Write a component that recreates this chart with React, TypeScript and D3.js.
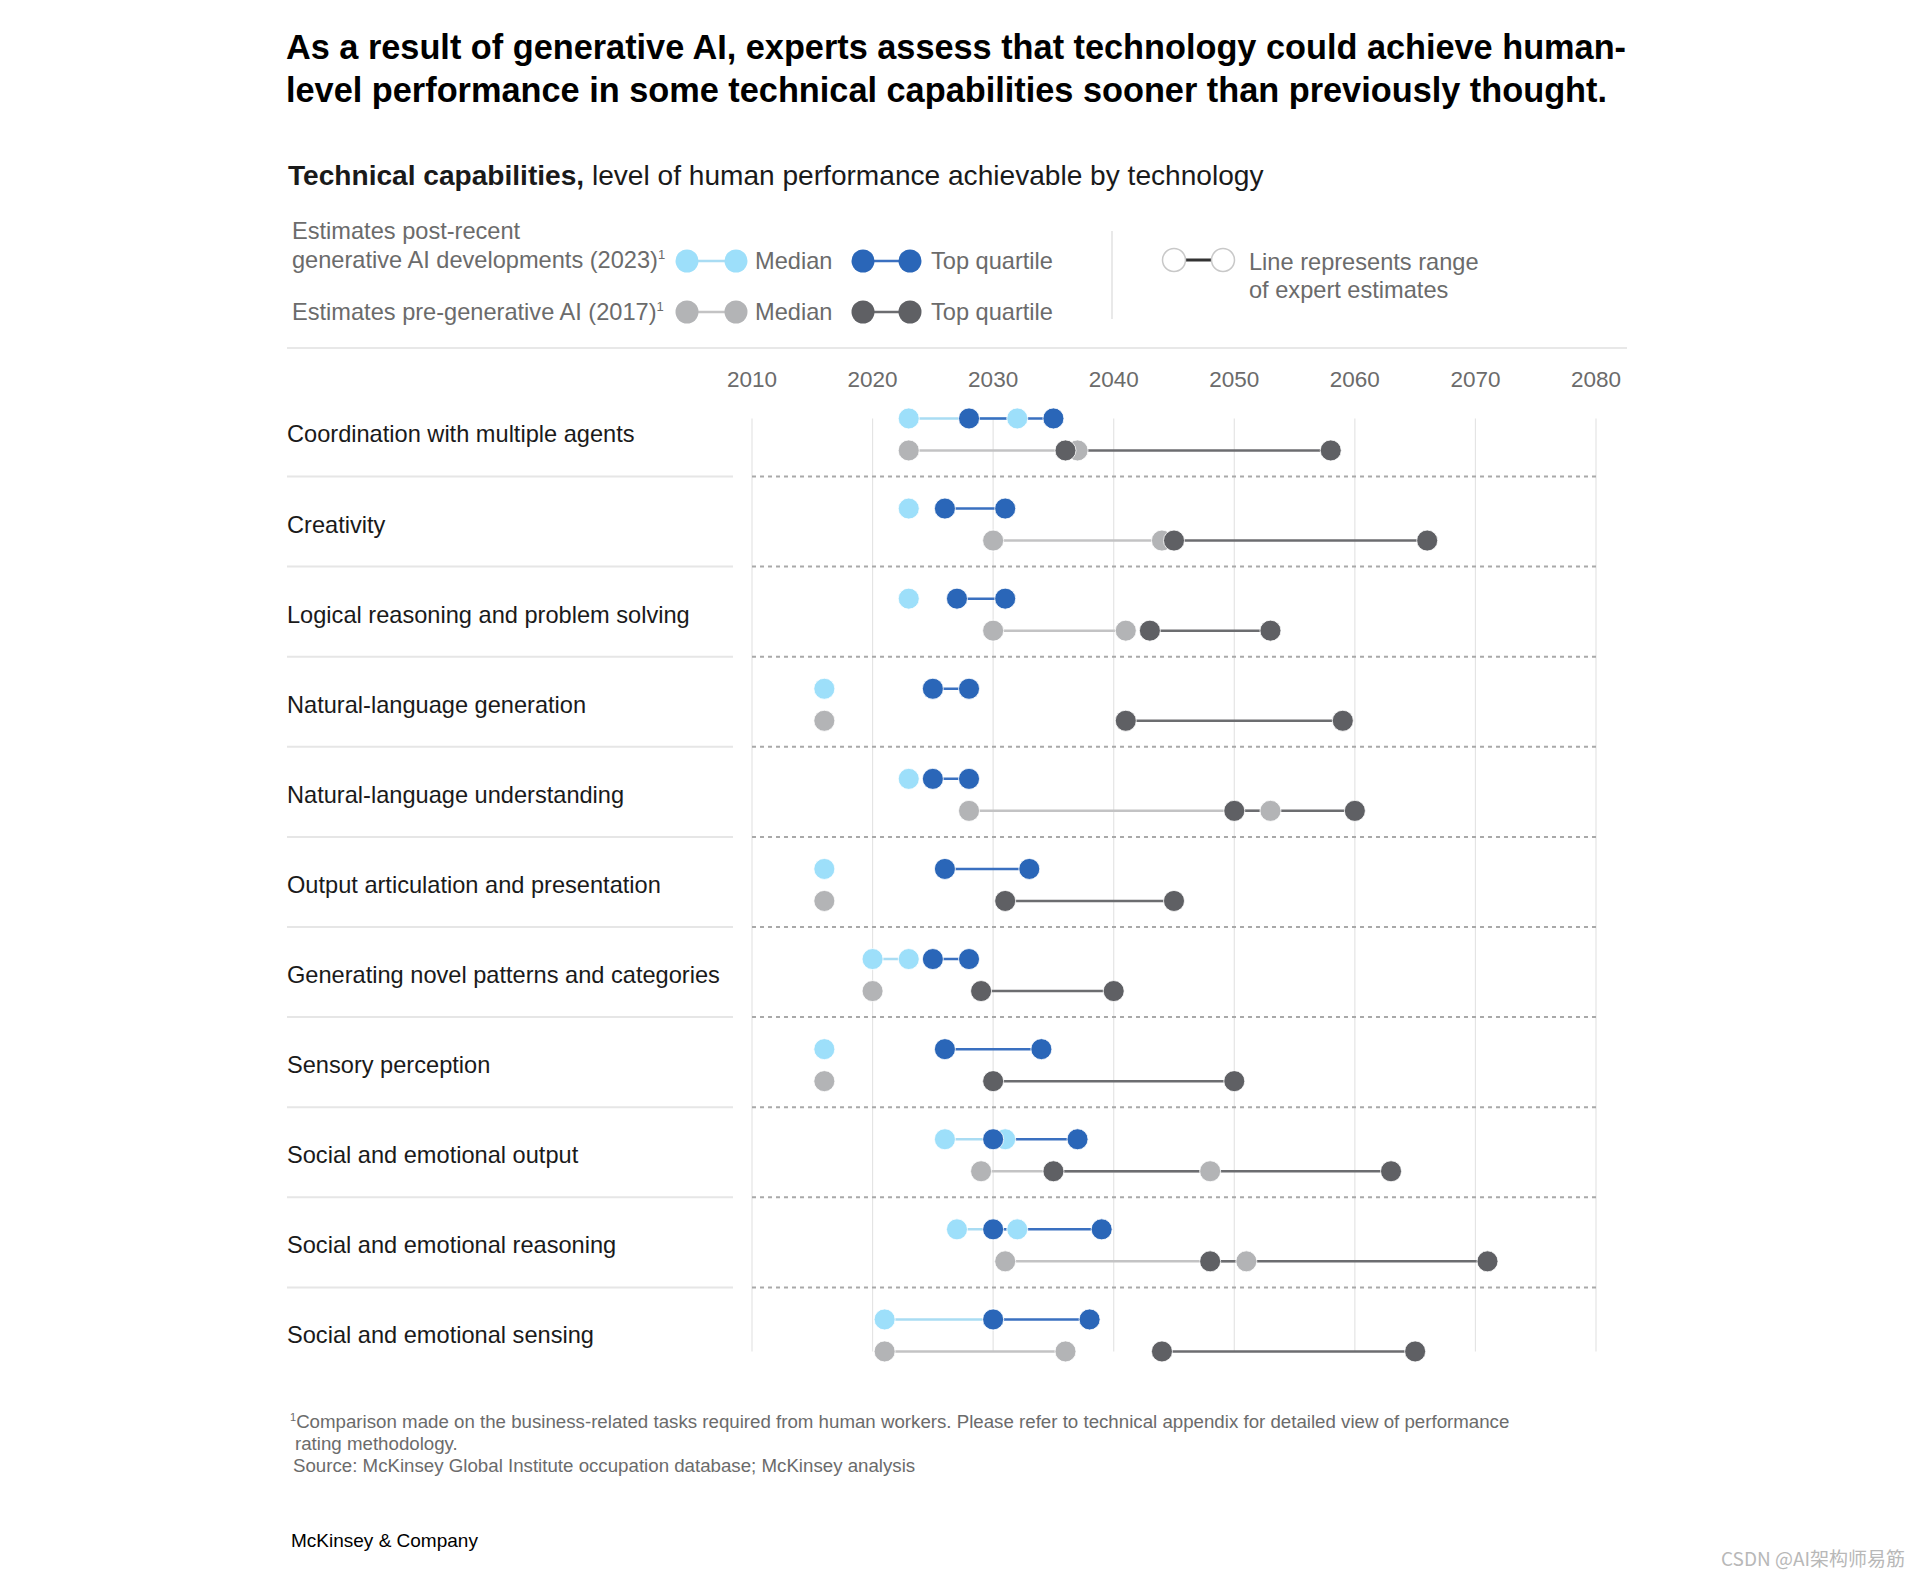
import React from 'react';
import * as d3 from 'd3';

const categories = [
  'Coordination with multiple agents',
  'Creativity',
  'Logical reasoning and problem solving',
  'Natural-language generation',
  'Natural-language understanding',
  'Output articulation and presentation',
  'Generating novel patterns and categories',
  'Sensory perception',
  'Social and emotional output',
  'Social and emotional reasoning',
  'Social and emotional sensing',
];

// [start, end] year ranges
const median2023: [number, number][] = [
  [2023, 2032], [2023, 2023], [2023, 2023], [2016, 2016], [2023, 2023], [2016, 2016],
  [2020, 2023], [2016, 2016], [2026, 2031], [2027, 2032], [2021, 2030],
];
const topQuartile2023: [number, number][] = [
  [2028, 2035], [2026, 2031], [2027, 2031], [2025, 2028], [2025, 2028], [2026, 2033],
  [2025, 2028], [2026, 2034], [2030, 2037], [2030, 2039], [2030, 2038],
];
const median2017: [number, number][] = [
  [2023, 2037], [2030, 2044], [2030, 2041], [2016, 2016], [2028, 2053], [2016, 2016],
  [2020, 2020], [2016, 2016], [2029, 2048], [2031, 2051], [2021, 2036],
];
const topQuartile2017: [number, number][] = [
  [2036, 2058], [2045, 2066], [2043, 2053], [2041, 2059], [2050, 2060], [2031, 2045],
  [2029, 2040], [2030, 2050], [2035, 2063], [2048, 2071], [2044, 2065],
];

const xTicks = [2010, 2020, 2030, 2040, 2050, 2060, 2070, 2080];

const C = {
  lightBlue: '#9ddffa',
  lightBlueLine: '#a9dcf3',
  blue: '#2a66b8',
  blueLine: '#3a70c0',
  gray: '#b3b4b6',
  grayLine: '#c3c3c4',
  darkGray: '#5f6064',
  darkGrayLine: '#6c6d70',
  text: '#1a1a1a',
  muted: '#6b6b6b',
};

const FONT = "'Liberation Sans', Arial, sans-serif";

export default function App() {
  const W = 1924;
  const H = 1578;
  const x = d3.scaleLinear().domain([2010, 2080]).range([752, 1596]);
  const y = d3.scaleBand<string>().domain(categories).range([389.4, 389.4 + 90.1 * categories.length]).paddingInner(0);
  const bw = y.bandwidth();
  const center = (c: string) => (y(c) as number) + bw / 2;
  const upper = (c: string) => center(c) - 16;
  const lower = (c: string) => center(c) + 16;
  const r = 10.5;
  const gridTop = upper(categories[0]);
  const gridBottom = lower(categories[categories.length - 1]);

  const series = [
    { data: median2023, row: upper, dot: C.lightBlue, line: C.lightBlueLine, key: 'm23' },
    { data: topQuartile2023, row: upper, dot: C.blue, line: C.blueLine, key: 't23' },
    { data: median2017, row: lower, dot: C.gray, line: C.grayLine, key: 'm17' },
    { data: topQuartile2017, row: lower, dot: C.darkGray, line: C.darkGrayLine, key: 't17' },
  ];

  const legendDot = 11.5;

  return (
    <svg
      width={W}
      height={H}
      viewBox={`0 0 ${W} ${H}`}
      style={{ position: 'absolute', left: 0, top: 0, background: '#fff', fontFamily: FONT }}
    >
      <rect width={W} height={H} fill="#fff" />
      {/* Title */}
      <text x={286} y={59} fontSize={35} fontWeight={700} fill="#000" textLength={1340} lengthAdjust="spacingAndGlyphs">
        As a result of generative AI, experts assess that technology could achieve human-
      </text>
      <text x={286} y={102} fontSize={35} fontWeight={700} fill="#000" textLength={1321} lengthAdjust="spacingAndGlyphs">
        level performance in some technical capabilities sooner than previously thought.
      </text>

      {/* Subtitle */}
      <text x={288} y={185} fontSize={28.1} fill={C.text}>
        <tspan fontWeight={700}>Technical capabilities,</tspan>
        <tspan> level of human performance achievable by technology</tspan>
      </text>

      {/* Legend */}
      <g fontSize={23.6} fill={C.muted}>
        <text x={292} y={239}>Estimates post-recent</text>
        <text x={292} y={268}>
          generative AI developments (2023)<tspan fontSize={13} dy={-9}>1</tspan>
        </text>
        <text x={292} y={320}>
          Estimates pre-generative AI (2017)<tspan fontSize={13} dy={-9}>1</tspan>
        </text>
        {[
          { cy: 261, c1: C.lightBlue, l1: C.lightBlueLine, c2: C.blue, l2: C.blueLine },
          { cy: 312, c1: C.gray, l1: C.grayLine, c2: C.darkGray, l2: C.darkGrayLine },
        ].map((row, i) => (
          <g key={i}>
            <line x1={687} x2={736} y1={row.cy} y2={row.cy} stroke={row.l1} strokeWidth={2.5} />
            <circle cx={687} cy={row.cy} r={legendDot} fill={row.c1} />
            <circle cx={736} cy={row.cy} r={legendDot} fill={row.c1} />
            <text x={755} y={row.cy + 8}>Median</text>
            <line x1={863} x2={910} y1={row.cy} y2={row.cy} stroke={row.l2} strokeWidth={2.5} />
            <circle cx={863} cy={row.cy} r={legendDot} fill={row.c2} />
            <circle cx={910} cy={row.cy} r={legendDot} fill={row.c2} />
            <text x={931} y={row.cy + 8}>Top quartile</text>
          </g>
        ))}
        <line x1={1112} x2={1112} y1={231} y2={319} stroke="#e2e2e2" strokeWidth={1.5} />
        <line x1={1174} x2={1223} y1={260} y2={260} stroke="#333" strokeWidth={3} />
        <circle cx={1174} cy={260} r={legendDot} fill="#fff" stroke="#c8c8c8" strokeWidth={1.5} />
        <circle cx={1223} cy={260} r={legendDot} fill="#fff" stroke="#c8c8c8" strokeWidth={1.5} />
        <text x={1249} y={270}>Line represents range</text>
        <text x={1249} y={298}>of expert estimates</text>
      </g>

      <line x1={287} x2={1627} y1={348} y2={348} stroke="#e8e8e8" strokeWidth={2} />

      {/* X axis labels */}
      <g fontSize={22.5} fill={C.muted} textAnchor="middle">
        {xTicks.map((t) => (
          <text key={t} x={x(t)} y={387}>{t}</text>
        ))}
      </g>

      {/* Gridlines */}
      <g>
        {xTicks.map((t) => (
          <line key={t} x1={x(t)} x2={x(t)} y1={gridTop} y2={gridBottom} stroke="#e4e4e4" strokeWidth={1.2} />
        ))}
      </g>

      {/* Row separators */}
      <g>
        {categories.slice(0, -1).map((c) => {
          const sy = (y(c) as number) + bw - 3;
          return (
            <g key={c}>
              <line x1={287} x2={733} y1={sy} y2={sy} stroke="#e6e6e6" strokeWidth={2} />
              <line x1={x(2010)} x2={x(2080)} y1={sy} y2={sy} stroke="#a9a9a9" strokeWidth={2} strokeDasharray="4 4" />
            </g>
          );
        })}
      </g>

      {/* Category labels */}
      <g fontSize={23.6} fill={C.text}>
        {categories.map((c) => (
          <text key={c} x={287} y={center(c) + 8}>{c}</text>
        ))}
      </g>

      {/* Range lines */}
      <g>
        {series.map((s) =>
          s.data.map((d, i) =>
            d[0] !== d[1] ? (
              <line
                key={s.key + i}
                x1={x(d[0])}
                x2={x(d[1])}
                y1={s.row(categories[i])}
                y2={s.row(categories[i])}
                stroke={s.line}
                strokeWidth={2.5}
              />
            ) : null
          )
        )}
      </g>

      {/* Dots */}
      <g>
        {series.map((s) =>
          s.data.map((d, i) => (
            <g key={s.key + i}>
              {(d[0] === d[1] ? [d[0]] : d).map((v, j) => (
                <circle
                  key={j}
                  cx={x(v)}
                  cy={s.row(categories[i])}
                  r={r}
                  fill={s.dot}
                  stroke="#fff"
                  strokeWidth={0.8}
                />
              ))}
            </g>
          ))
        )}
      </g>

      {/* Footnotes */}
      <g fontSize={18.7} fill={C.muted}>
        <text x={290} y={1428}>
          <tspan fontSize={11} dy={-7}>1</tspan>
          <tspan dy={7}>Comparison made on the business-related tasks required from human workers. Please refer to technical appendix for detailed view of performance</tspan>
        </text>
        <text x={295} y={1450}>rating methodology.</text>
        <text x={293} y={1472}>Source: McKinsey Global Institute occupation database; McKinsey analysis</text>
      </g>

      <text x={291} y={1547} fontSize={19} fill="#000">McKinsey &amp; Company</text>

      <text x={1721} y={1566} fontSize={19} fill="#b8b8b8" fontFamily="'Noto Sans CJK SC', 'Noto Sans', sans-serif">
        CSDN @AI架构师易筋
      </text>
    </svg>
  );
}
